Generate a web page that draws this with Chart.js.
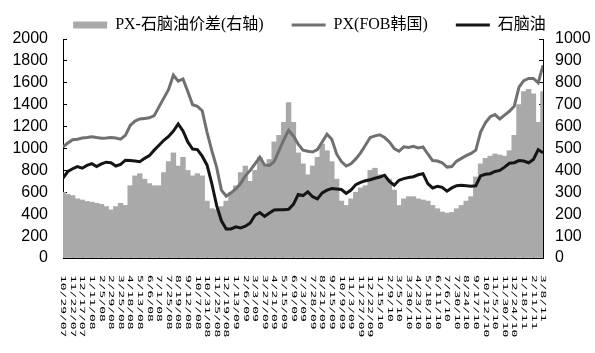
<!DOCTYPE html>
<html lang="zh">
<head>
<meta charset="UTF-8">
<title>PX与石脑油价格</title>
<script src="https://cdn.jsdelivr.net/npm/chart.js"></script>
<style>
    html, body { margin: 0; padding: 0; background: #fff; }
    .wrap { width: 595px; height: 353px; }
</style>
</head>
<body>
<div class="wrap"><canvas id="pxChart" width="595" height="353"></canvas></div>
<script>
    // date labels on the x axis, one every second data point
    const tickLabels = [
        '10/29/07', '11/22/07', '12/17/07', '1/11/08', '2/5/08', '2/29/08', '3/25/08', '4/18/08',
        '5/13/08', '6/6/08', '7/1/08', '7/25/08', '8/19/08', '9/12/08', '10/7/08', '10/31/08',
        '11/25/08', '12/19/08', '1/13/09', '2/6/09', '3/3/09', '3/27/09', '4/21/09', '5/15/09',
        '6/9/09', '7/3/09', '7/28/09', '8/21/09', '9/15/09', '10/9/09', '11/3/09', '11/27/09',
        '12/22/09', '1/15/10', '2/9/10', '3/5/10', '3/30/10', '4/23/10', '5/18/10', '6/11/10',
        '7/6/10', '7/30/10', '8/24/10', '9/17/10', '10/12/10', '11/5/10', '11/30/10', '12/24/10',
        '1/18/11', '2/11/11', '3/8/11'
    ];
    const pointsPerLabel = 2;

    // PX (FOB Korea), left axis
    const pxFob = [
        1015, 1050, 1080, 1085, 1095, 1100, 1108, 1100, 1093, 1095,
        1100, 1095, 1085, 1120, 1210, 1250, 1270, 1275, 1280, 1300,
        1380, 1460, 1540, 1670, 1615, 1635, 1520, 1400, 1385, 1345,
        1150, 980, 830, 620, 565, 595, 630, 680, 750, 800,
        860, 920, 850, 845, 880, 980, 1080, 1165, 1115, 1040,
        985, 975, 968, 990, 1060, 1130, 1085, 950, 880, 840,
        860, 905, 960, 1030, 1100, 1115, 1125, 1100, 1060, 1000,
        975, 1015, 1010, 1020, 1005, 1015, 950, 890, 885, 870,
        830, 835, 885, 910, 935, 955, 985, 1150, 1235, 1290,
        1310, 1270, 1305, 1340, 1385, 1560, 1620, 1640, 1640, 1600,
        1760
    ];

    // naphtha, left axis
    const naphtha = [
        730, 790, 815, 835, 820, 845, 862, 835, 860, 875,
        870, 840, 855, 893, 890, 885, 880, 910, 935, 985,
        1030, 1075, 1110, 1160, 1225, 1160, 1060, 995, 990, 930,
        850, 680, 480, 340, 265, 265, 285, 275, 290, 320,
        390, 415, 380, 410, 438, 440, 440, 445, 490, 580,
        570, 605, 560, 540, 595, 620, 635, 630, 625, 590,
        620, 670, 690, 705, 715, 728, 740, 755, 700, 665,
        710, 725, 735, 742, 760, 770, 680, 640, 655, 645,
        610, 640, 660, 665, 660, 655, 660, 750, 765, 770,
        790, 800, 830, 865, 870, 890, 885, 870, 900, 990,
        960
    ];

    // PX - naphtha spread, right axis
    const spread = [
        300, 290, 285, 270, 265, 258, 255, 250, 245, 235,
        220, 235, 250, 240, 330, 375, 385, 360, 340, 330,
        330, 390, 440, 480, 420, 460, 400, 375, 385, 375,
        260, 225, 220, 235, 260, 300, 330, 390, 420, 350,
        400, 460, 425, 450, 530, 560, 620, 710, 620, 480,
        430, 380, 420, 460, 520, 490, 440, 360, 260, 240,
        270, 300, 320, 330, 400, 410, 380, 365, 360, 310,
        240, 270, 280, 280, 270, 265, 260, 240, 225, 210,
        205, 208, 225, 240, 260, 280, 370, 430, 455, 465,
        475, 470, 465, 490, 560, 700, 760, 770, 750, 620,
        760
    ];

    const axisFont = { family: 'Liberation Sans, Arial, sans-serif', size: 16 };
    const legendFont = { family: "'Liberation Serif', 'Noto Sans CJK SC', serif", size: 16 };

    function toPoints(values) {
        return values.map((v, i) => ({ x: i / pointsPerLabel, y: v }));
    }

    // legend is given a fixed height so the plot starts where the original does
    const legendSpacer = {
        id: 'legendSpacer',
        beforeLayout(chart) {
            const legend = chart.legend;
            if (!legend || legend._spaced) return;
            const fit = legend.fit;
            legend.fit = function () {
                fit.call(this);
                this.height = 50;
            };
            legend._spaced = true;
        }
    };

    // date labels run top to bottom under each tick
    const dateLabels = {
        id: 'dateLabels',
        afterDraw(chart) {
            const scale = chart.scales.x;
            const c = chart.ctx;
            c.save();
            c.fillStyle = '#000';
            c.font = '7px "DejaVu Sans Mono", monospace';
            c.textAlign = 'left';
            c.textBaseline = 'middle';
            tickLabels.forEach((label, i) => {
                const x = scale.getPixelForValue(i);
                c.save();
                c.translate(x, scale.top + 17);
                c.rotate(Math.PI / 2);
                c.scale(1.85, 1);
                c.fillText(label, 0, 0);
                c.restore();
            });
            c.restore();
        }
    };

    const ctx = document.getElementById('pxChart').getContext('2d');
    const chart = new Chart(ctx, {
        type: 'bar',
        data: {
            datasets: [{
                type: 'bar',
                label: 'PX-石脑油价差(右轴)',
                data: toPoints(spread),
                yAxisID: 'y2',
                backgroundColor: '#a9a9a9',
                borderWidth: 0,
                barPercentage: 1,
                categoryPercentage: 1,
                order: 3
            }, {
                type: 'line',
                label: 'PX(FOB韩国)',
                data: toPoints(pxFob),
                yAxisID: 'y',
                borderColor: '#707070',
                borderWidth: 3,
                pointRadius: 0,
                tension: 0,
                order: 2
            }, {
                type: 'line',
                label: '石脑油',
                data: toPoints(naphtha),
                yAxisID: 'y',
                borderColor: '#151515',
                borderWidth: 3,
                pointRadius: 0,
                tension: 0,
                order: 1
            }]
        },
        options: {
            responsive: false,
            animation: false,
            layout: { padding: { top: -11, left: 10, right: -14 } },
            scales: {
                x: {
                    type: 'linear',
                    min: 0,
                    max: tickLabels.length - 1,
                    offset: false,
                    ticks: { display: false, stepSize: 1 },
                    grid: { offset: false, drawOnChartArea: false, tickLength: -4, color: '#000' },
                    border: { color: '#000' },
                    afterFit: s => { s.height = 95; }
                },
                y: {
                    position: 'left',
                    min: 0,
                    max: 2000,
                    ticks: { stepSize: 200, autoSkip: false, font: axisFont, color: '#000', padding: 19, callback: v => String(v) },
                    grid: { drawOnChartArea: false, tickLength: -4, color: '#000' },
                    border: { color: '#000' },
                    afterFit: s => { s.width = 53; }
                },
                y2: {
                    position: 'right',
                    min: 0,
                    max: 1000,
                    ticks: { stepSize: 100, autoSkip: false, font: axisFont, color: '#000', padding: 16, callback: v => String(v) },
                    grid: { drawOnChartArea: false, tickLength: -4, color: '#000' },
                    border: { color: '#000' },
                    afterFit: s => { s.width = 66; }
                }
            },
            plugins: {
                legend: {
                    position: 'top',
                    labels: {
                        font: legendFont,
                        color: '#000',
                        padding: 28,
                        usePointStyle: true,
                        pointStyleWidth: 34,
                        boxHeight: 7,
                        sort: (a, b) => a.datasetIndex - b.datasetIndex,
                        generateLabels(chart) {
                            const items = Chart.defaults.plugins.legend.labels.generateLabels(chart);
                            items.forEach(item => {
                                const ds = chart.data.datasets[item.datasetIndex];
                                if (ds.type === 'bar') {
                                    item.pointStyle = 'rect';
                                    item.fillStyle = ds.backgroundColor;
                                    item.lineWidth = 0;
                                } else {
                                    item.pointStyle = 'line';
                                    item.strokeStyle = ds.borderColor;
                                    item.lineWidth = 3;
                                }
                            });
                            return items;
                        }
                    }
                },
                tooltip: { enabled: false }
            }
        },
        plugins: [legendSpacer, dateLabels]
    });
</script>
</body>
</html>
